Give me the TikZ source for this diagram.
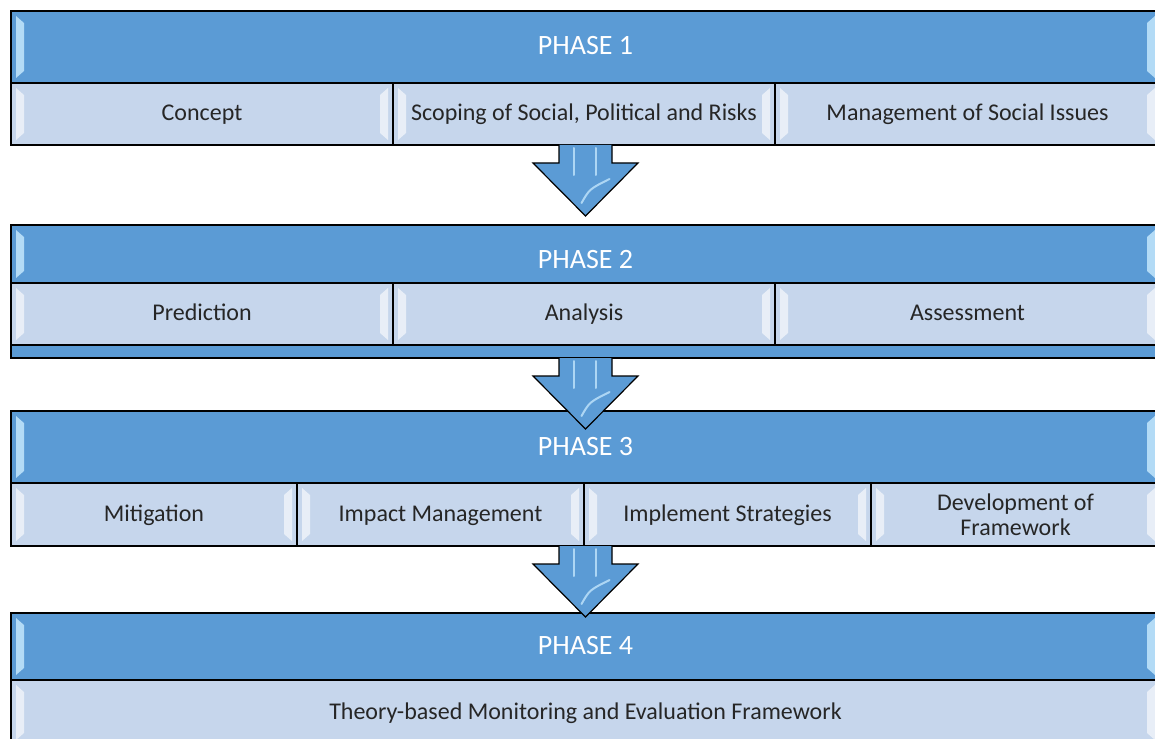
\documentclass[tikz,border=0pt]{standalone}
\usepackage{fontspec}
\setmainfont{Carlito}
\usepackage{xcolor}
\usetikzlibrary{calc}

\definecolor{headblue}{HTML}{5B9BD5}
\definecolor{cellblue}{HTML}{C6D6EC}
\definecolor{textgray}{HTML}{262626}
\definecolor{glowblue}{HTML}{C9EBFF}

\tikzset{
  bevel/.style={path picture={
    \fill[#1] ([xshift=5pt,yshift=-5pt]path picture bounding box.north west) -- ++(8pt,-7pt)
      -- ([xshift=13pt,yshift=12pt]path picture bounding box.south west) -- ++(-8pt,-7pt) -- cycle;
    \fill[#1] ([xshift=-5pt,yshift=-5pt]path picture bounding box.north east) -- ++(-8pt,-7pt)
      -- ([xshift=-13pt,yshift=12pt]path picture bounding box.south east) -- ++(8pt,-7pt) -- cycle;
  }},
  phasebox/.style={draw=black, line width=1.6pt, fill=headblue, anchor=north west,
    inner sep=0pt, outer sep=0pt},
  headbox/.style={draw=black, line width=1.2pt, fill=headblue, anchor=north west,
    inner sep=0pt, outer sep=0pt, minimum width=1149pt, text=white,
    text height=16pt, text depth=0pt,
    font=\fontsize{28}{30}\selectfont, bevel={glowblue,opacity=.8}},
  cellbox/.style={draw=black, line width=1.2pt, fill=cellblue, anchor=north west,
    inner sep=0pt, outer sep=0pt, text=textgray, align=center,
    text height=13.4pt, text depth=0pt,
    font=\fontsize{24}{25}\selectfont, bevel={white,opacity=.6}},
  bigarrow/.style={draw=black, line width=1.2pt, line join=miter},
  shine/.style={glowblue, line width=2pt, opacity=.75, line cap=round}
}

% block arrow hanging below a phase box
\newcommand{\phasearrow}[1]{%
  \fill[headblue] ($(#1.south)+(-26.5,0)$) -- ($(#1.south)+(-26.5,18)$) -- ($(#1.south)+(-52.5,18)$)
    -- ($(#1.south)+(0,71)$) -- ($(#1.south)+(52.5,18)$) -- ($(#1.south)+(26.5,18)$)
    -- ($(#1.south)+(26.5,0)$) -- cycle;
  \draw[bigarrow] ($(#1.south)+(-26.5,0)$) -- ($(#1.south)+(-26.5,18)$) -- ($(#1.south)+(-52.5,18)$)
    -- ($(#1.south)+(0,71)$) -- ($(#1.south)+(52.5,18)$) -- ($(#1.south)+(26.5,18)$)
    -- ($(#1.south)+(26.5,0)$);
  \draw[shine] ($(#1.south)+(-12,3)$) -- ($(#1.south)+(-12,30)$);
  \draw[shine] ($(#1.south)+(10,3)$) -- ($(#1.south)+(10,30)$);
  \draw[shine] ($(#1.south)+(-4,58)$) .. controls ($(#1.south)+(4,44)$) .. ($(#1.south)+(24,34)$);
}

\begin{document}
\begin{tikzpicture}[x=1pt,y=-1pt]
\useasboundingbox (0,0) rectangle (1155,738);

% Phase 1
\node[phasebox, minimum width=1149pt, minimum height=134pt] (ph1) at (11,11) {};
\node[headbox, minimum height=72pt] (ph1h) at (11,11) {PHASE 1};
\node[cellbox, minimum width=382pt, minimum height=62pt] (ph1a) at (11,83) {Concept};
\node[cellbox, minimum width=382pt, minimum height=62pt] (ph1b) at (393,83) {Scoping of Social, Political and Risks};
\node[cellbox, minimum width=385pt, minimum height=62pt] (ph1c) at (775,83) {Management of Social Issues};
\draw[line width=1.6pt] (ph1.north west) rectangle (ph1.south east);

% Phase 2
\node[phasebox, minimum width=1149pt, minimum height=133pt] (ph2) at (11,225) {};
\node[headbox, minimum height=58pt] (ph2h) at (11,225) {\raisebox{-6pt}{PHASE 2}};
\node[cellbox, minimum width=382pt, minimum height=62pt] (ph2a) at (11,283) {Prediction};
\node[cellbox, minimum width=382pt, minimum height=62pt] (ph2b) at (393,283) {Analysis};
\node[cellbox, minimum width=385pt, minimum height=62pt] (ph2c) at (775,283) {Assessment};
\draw[line width=1.6pt] (ph2.north west) rectangle (ph2.south east);

% Phase 3
\node[phasebox, minimum width=1149pt, minimum height=135pt] (ph3) at (11,411) {};
\node[headbox, minimum height=72pt] (ph3h) at (11,411) {PHASE 3};
\node[cellbox, minimum width=286pt, minimum height=63pt] (ph3a) at (11,483) {Mitigation};
\node[cellbox, minimum width=287pt, minimum height=63pt] (ph3b) at (297,483) {Impact Management};
\node[cellbox, minimum width=287pt, minimum height=63pt] (ph3c) at (584,483) {Implement Strategies};
\node[cellbox, minimum width=289pt, minimum height=63pt, text height=, text depth=] (ph3d) at (871,483) {Development of\\Framework};
\draw[line width=1.6pt] (ph3.north west) rectangle (ph3.south east);

% Phase 4
\node[phasebox, minimum width=1149pt, minimum height=132pt] (ph4) at (11,613) {};
\node[headbox, minimum height=67pt] (ph4h) at (11,613) {PHASE 4};
\node[cellbox, minimum width=1149pt, minimum height=65pt] (ph4a) at (11,680) {Theory-based Monitoring and Evaluation Framework};
\draw[line width=1.6pt] (ph4.north west) rectangle (ph4.south east);

% arrows between phases
\phasearrow{ph1}
\phasearrow{ph2}
\phasearrow{ph3}
\end{tikzpicture}
\end{document}
